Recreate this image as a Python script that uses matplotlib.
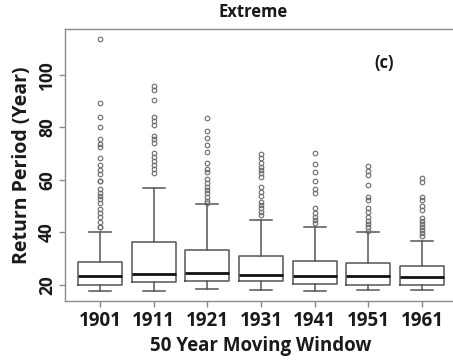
import matplotlib.pyplot as plt

plt.rcParams['font.family'] = ['Open Sans', 'DejaVu Sans']

windows = ['1901', '1911', '1921', '1931', '1941', '1951', '1961']

# five-number summaries per moving window
whislo = [17.8, 17.8, 18.6, 18.1, 17.8, 18.1, 18.1]
q1 = [20.1, 21.0, 21.6, 21.5, 20.5, 20.1, 19.9]
med = [23.4, 24.2, 24.4, 23.7, 23.3, 23.3, 23.2]
q3 = [28.9, 36.5, 33.3, 31.0, 29.2, 28.3, 27.3]
whishi = [40.0, 57.0, 50.8, 44.6, 42.2, 40.0, 36.8]

fliers = [
    [113.4, 89.3, 83.8, 80.0, 75.4, 73.6, 72.4, 68.2, 65.6, 63.7, 62.2, 59.7,
     59.5, 56.4, 55.1, 53.8, 52.6, 51.3, 48.8, 47.3, 46.0, 44.1, 42.2, 42.0],
    [95.5, 94.1, 90.3, 83.8, 82.5, 80.8, 76.7, 75.4, 73.9, 70.1, 68.8, 67.3,
     65.6, 64.0, 62.5],
    [83.4, 78.7, 75.8, 73.2, 70.7, 66.5, 64.0, 63.1, 60.2, 58.7, 57.1, 56.1,
     54.9, 53.3, 52.1, 51.2],
    [69.8, 68.2, 66.5, 65.0, 63.7, 62.5, 61.2, 57.1, 55.5, 53.8, 51.7, 50.4,
     49.2, 47.9, 46.6],
    [70.1, 66.0, 63.1, 59.7, 56.4, 55.1, 49.2, 47.5, 46.0, 44.7, 43.5],
    [65.2, 63.5, 61.8, 58.0, 53.6, 52.3, 49.2, 47.9, 46.0, 44.4, 43.2, 41.9,
     40.5],
    [60.6, 59.3, 53.6, 52.3, 50.0, 48.5, 45.4, 44.4, 43.2, 41.9, 40.9, 39.7,
     38.6],
]

stats = []
for i in range(len(windows)):
    stats.append({'whislo': whislo[i], 'q1': q1[i], 'med': med[i],
                  'q3': q3[i], 'whishi': whishi[i], 'fliers': fliers[i]})

fig = plt.figure(figsize=(4.53, 3.6), dpi=100)
ax = fig.add_axes([0.1435, 0.164, 0.865, 0.755])

edge = '#555555'
ax.bxp(stats, positions=range(1, 8), widths=0.82, showfliers=True,
       boxprops=dict(color=edge, linewidth=1.1),
       whiskerprops=dict(color=edge, linewidth=1.1),
       capprops=dict(color=edge, linewidth=1.1),
       medianprops=dict(color='#111111', linewidth=2.0),
       flierprops=dict(marker='o', markersize=3.3, markerfacecolor='none',
                       markeredgecolor='#6a6a6a', markeredgewidth=0.8),
       capwidths=0.41)

ax.set_xlim(0.35, 7.65)
ax.set_ylim(13.9, 117.3)
ax.set_xticks(range(1, 8))
ax.set_xticklabels(windows)
ax.set_yticks([20, 40, 60, 80, 100])
ax.set_yticklabels(['20', '40', '60', '80', '100'], rotation=90, va='center')

for s in ax.spines.values():
    s.set_color('#8a8a8a')
    s.set_linewidth(1.0)

ax.tick_params(axis='both', colors='#8a8a8a', length=4.5, width=1.0,
               labelcolor='#1a1a1a')
ax.tick_params(axis='x', labelsize=13.5, pad=3)
ax.tick_params(axis='y', labelsize=12.5, pad=2)
for lbl in ax.get_xticklabels() + ax.get_yticklabels():
    lbl.set_fontweight('bold')

ax.set_xlabel('50 Year Moving Window', fontsize=13.5, fontweight='bold',
              color='#1a1a1a', labelpad=3)
ax.set_ylabel('Return Period (Year)', fontsize=14, fontweight='bold',
              color='#1a1a1a', labelpad=4)

ax.text(6.3, 104.4, '(c)', fontsize=12, fontweight='bold', color='#1a1a1a',
        ha='center', va='center')
fig.text(0.558, 0.966, 'Extreme', fontsize=12, fontweight='bold',
         color='#1a1a1a', ha='center', va='center')

fig.savefig('out.png', dpi=100)
